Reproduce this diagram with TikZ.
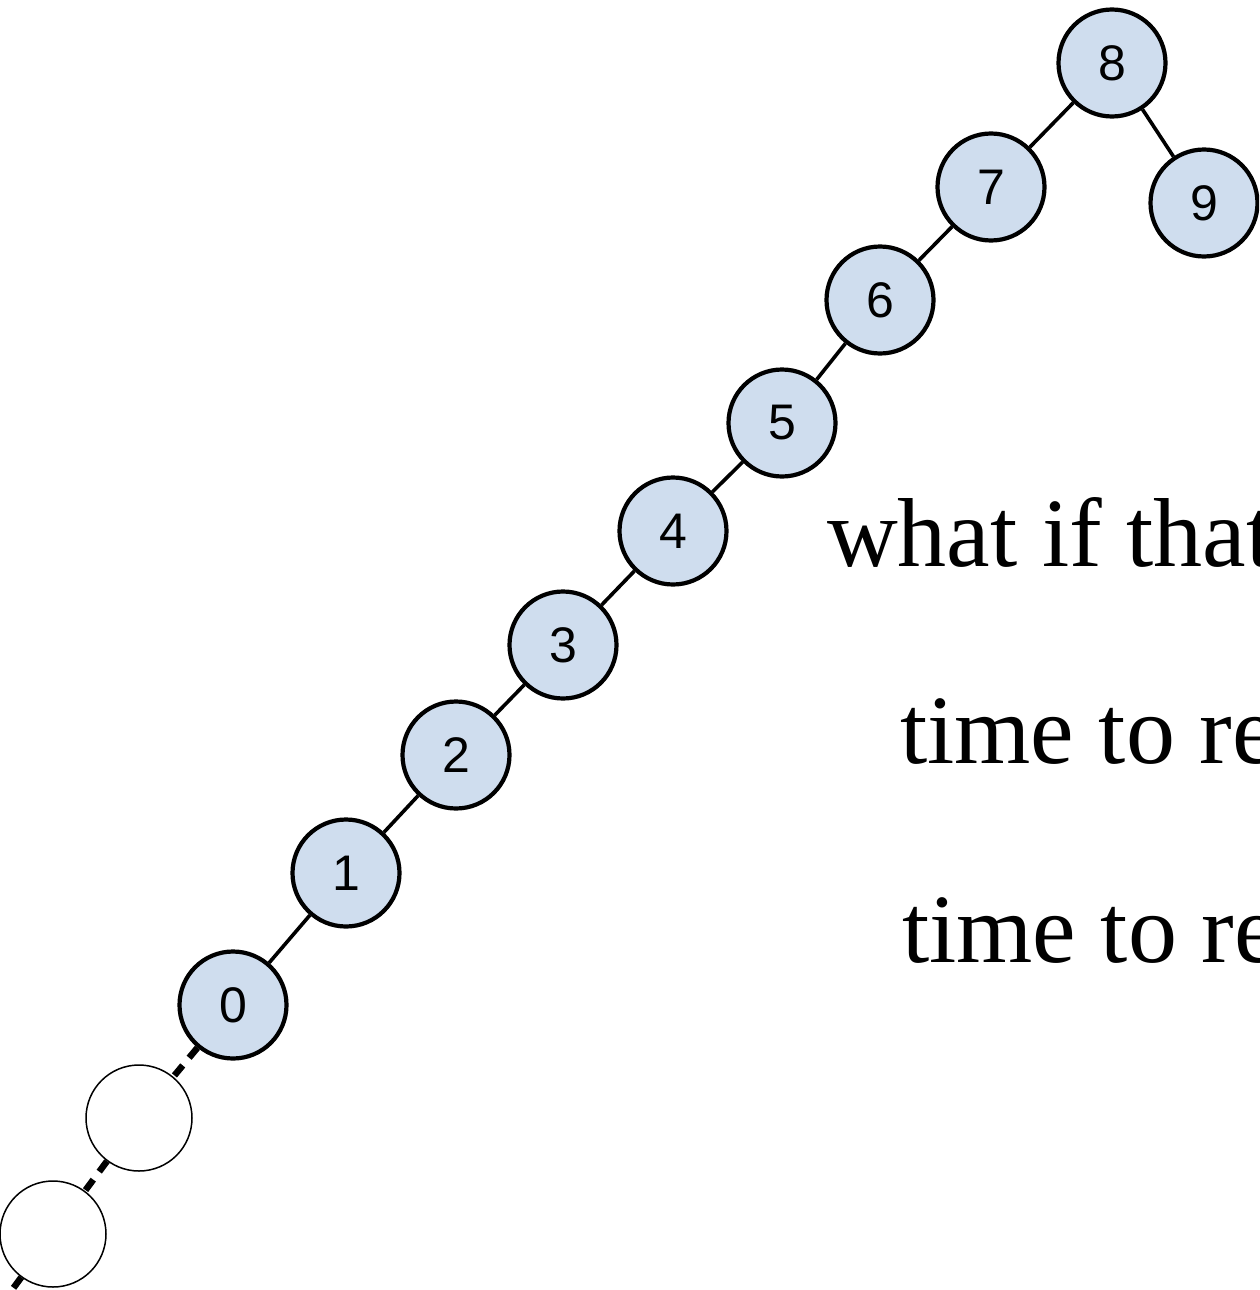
\documentclass[tikz,border=0pt]{standalone}
\usepackage{fontspec}
\setmainfont{Liberation Serif}
\newfontfamily\keyfont{Liberation Sans}
\usepackage{tikz}
\usetikzlibrary{positioning}
\definecolor{keyfill}{HTML}{CFDDEE}
\tikzset{
  keynode/.style={circle,draw=black,line width=4.2pt,fill=keyfill,minimum size=107pt,inner sep=0pt,font=\keyfont\fontsize{50}{56}\selectfont},
  ghostnode/.style={circle,draw=black,line width=1.5pt,minimum size=106pt,inner sep=0pt},
  link/.style={line width=3.6pt},
  ghostlink/.style={line width=6.5pt,dash pattern=on 13pt off 10pt},
  remark/.style={anchor=base west,inner sep=0pt,font=\fontsize{98}{118}\selectfont}
}
\begin{document}
\begin{tikzpicture}[x=1pt,y=-1pt]
  \useasboundingbox (0,0) rectangle (1259,1290);
  \clip (0,0) rectangle (1259,1290);
  % chain of keys
  \foreach \k/\px/\py in {0/233/1005,1/346/873,2/456/755,3/563/645,4/673/531,5/782/423,6/880/300,7/991/187,8/1112/63,9/1204/203}
    \node[keynode] (k\k) at (\px,\py) {\k};
  \foreach \a/\b in {0/1,1/2,2/3,3/4,4/5,5/6,6/7,7/8,8/9}
    \draw[link] (k\a) -- (k\b);
  % missing nodes below 0
  \node[ghostnode] (g1) at (139,1118) {};
  \node[ghostnode] (g2) at (53,1234) {};
  \coordinate (tail) at (-32,1350);
  \draw[ghostlink] (k0) -- (g1);
  \draw[ghostlink] (g1) -- (g2);
  \draw[ghostlink] (g2) -- (tail);
  % notes
  \node[remark] (q) at (827,566) {what if that};
  \node[remark] (t1) at (900,763) {time to re};
  \node[remark] (t2) at (902,962) {time to re};
\end{tikzpicture}
\end{document}
